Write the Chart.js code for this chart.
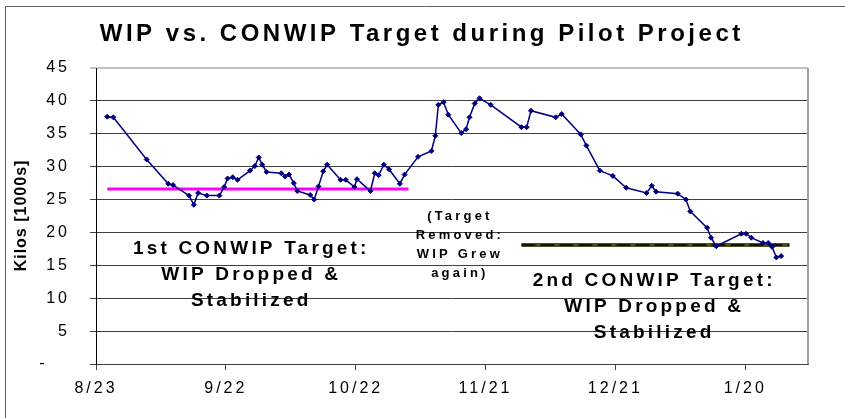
<!DOCTYPE html>
<html lang="en">
<head>
<meta charset="UTF-8">
<title>WIP vs. CONWIP Target during Pilot Project</title>
<script src="https://cdn.jsdelivr.net/npm/chart.js"></script>
<style>
    body { margin: 0; background: #fff; }
</style>
</head>
<body>
<canvas id="wipChart" width="845" height="418"></canvas>
<script>
// days counted from 8/23, kilos in 1000s
const wipDays = [2.6, 4.0, 11.7, 16.7, 17.8, 21.5, 22.6, 23.6, 25.6, 28.5,
    29.6, 30.4, 31.6, 32.7, 35.6, 36.7, 37.6, 38.4, 39.4, 42.8,
    43.7, 44.6, 45.7, 46.5, 49.5, 50.4, 51.4, 52.5, 53.4, 56.5,
    57.7, 59.7, 60.3, 63.4, 64.4, 65.3, 66.5, 67.7, 70.2, 71.3,
    74.4, 77.5, 78.4, 79.1, 80.3, 81.4, 84.4, 85.5, 86.3, 87.5,
    88.6, 91.2, 98.3, 99.5, 100.5, 106.2, 107.6, 112.0, 113.3, 116.4,
    119.4, 122.5, 127.2, 128.4, 129.4, 134.4, 136.3, 137.3, 141.2, 142.1,
    143.3, 149.1, 150.2, 151.4, 154.1, 155.3, 156.2, 157.2, 158.3];
const wipKilos = [37.6, 37.5, 31.1, 27.4, 27.2, 25.6, 24.2, 26.0, 25.6, 25.6,
    26.9, 28.2, 28.4, 28.0, 29.4, 30.1, 31.4, 30.3, 29.2, 29.0,
    28.5, 28.8, 27.5, 26.3, 25.7, 25.0, 27.0, 29.3, 30.3, 28.0,
    28.0, 26.9, 28.1, 26.3, 29.0, 28.7, 30.3, 29.6, 27.4, 28.8,
    31.5, 32.4, 34.7, 39.4, 39.8, 37.9, 35.1, 35.7, 37.5, 39.6,
    40.4, 39.4, 36.0, 36.0, 38.5, 37.5, 38.0, 34.9, 33.2, 29.4,
    28.6, 26.8, 26.0, 27.1, 26.2, 25.9, 25.0, 23.2, 20.7, 19.2,
    17.9, 19.8, 19.8, 19.2, 18.4, 18.4, 17.8, 16.2, 16.4];

const target1Days = [2.6, 72.2];
const target1Kilos = [26.6, 26.6];
const target2Days = [98.3, 160.2];
const target2Kilos = [18.1, 18.1];

const tickDays = [0, 30, 60, 90, 120, 150];
const tickLabels = ['8/23', '9/22', '10/22', '11/21', '12/21', '1/20'];

const FONT = "Arial, 'Liberation Sans', sans-serif";

function toPoints(xs, ys) {
    return xs.map((x, i) => ({ x: x, y: ys[i] }));
}

// text boxes inside the plot, placed in data units (day, kilos)
const notes = [
    { lines: ['1st CONWIP Target:', 'WIP Dropped &', 'Stabilized'], day: 35.5, kilos: 17.5, step: 26, size: 19 },
    { lines: ['(Target', 'Removed:', 'WIP Grew', 'again)'], day: 83.7, kilos: 22.4, step: 19, size: 13 },
    { lines: ['2nd CONWIP Target:', 'WIP Dropped &', 'Stabilized'], day: 128.6, kilos: 12.7, step: 26, size: 19 }
];

function spacedText(ctx, text, x, y, ls) {
    ctx.letterSpacing = ls + 'px';
    ctx.fillText(text, x + ls / 2, y);
}

const decorations = {
    id: 'decorations',
    beforeDraw(chart) {
        const ctx = chart.ctx;
        ctx.save();
        ctx.strokeStyle = '#606060';
        ctx.lineWidth = 1;
        ctx.beginPath();
        ctx.moveTo(5.5, chart.height);
        ctx.lineTo(5.5, 6.5);
        ctx.lineTo(chart.width, 6.5);
        ctx.stroke();
        ctx.restore();
        // tick labels are letter-spaced
        ctx.letterSpacing = '3px';
    },
    afterDraw(chart) {
        const ctx = chart.ctx;
        const area = chart.chartArea;
        const xs = chart.scales.x;
        const ys = chart.scales.y;

        ctx.save();
        ctx.strokeStyle = '#a0a0a0';
        ctx.lineWidth = 2;
        ctx.beginPath();
        ctx.moveTo(area.right, area.top);
        ctx.lineTo(area.right, area.bottom);
        ctx.stroke();

        ctx.fillStyle = '#000';
        ctx.textAlign = 'center';
        ctx.textBaseline = 'middle';

        ctx.font = 'bold 24px ' + FONT;
        spacedText(ctx, 'WIP vs. CONWIP Target during Pilot Project', 420, 34, 3.5);

        notes.forEach(n => {
            ctx.font = 'bold ' + n.size + 'px ' + FONT;
            const cx = xs.getPixelForValue(n.day);
            const y0 = ys.getPixelForValue(n.kilos);
            n.lines.forEach((line, i) => {
                spacedText(ctx, line, cx, y0 + i * n.step, 3.2);
            });
        });

        ctx.translate(22, (area.top + area.bottom) / 2);
        ctx.rotate(-Math.PI / 2);
        ctx.font = 'bold 16px ' + FONT;
        spacedText(ctx, 'Kilos [1000s]', 0, 0, 1);
        ctx.restore();
        ctx.letterSpacing = '0px';
    }
};

const ctx = document.getElementById('wipChart').getContext('2d');
const wipChart = new Chart(ctx, {
    type: 'line',
    data: {
        datasets: [{
            label: 'WIP',
            data: toPoints(wipDays, wipKilos),
            borderColor: '#000080',
            borderWidth: 1.5,
            pointStyle: 'rectRot',
            pointRadius: 2.5,
            pointBackgroundColor: '#000080',
            pointBorderColor: '#000080',
            pointBorderWidth: 1,
            tension: 0,
            order: 0
        }, {
            label: '1st CONWIP Target',
            data: toPoints(target1Days, target1Kilos),
            borderColor: '#ff00ff',
            borderWidth: 3,
            pointRadius: 0,
            order: 1
        }, {
            label: '2nd CONWIP Target',
            data: toPoints(target2Days, target2Kilos),
            borderColor: '#000000',
            borderWidth: 1.5,
            borderDash: [14, 5],
            pointRadius: 0,
            order: 2
        }, {
            label: '2nd CONWIP Target band',
            data: toPoints(target2Days, target2Kilos),
            borderColor: '#4f4f22',
            borderWidth: 4,
            pointRadius: 0,
            order: 3
        }]
    },
    options: {
        responsive: false,
        animation: false,
        layout: { padding: { top: 68, right: 37, left: 0, bottom: 0 } },
        plugins: {
            legend: { display: false },
            tooltip: { enabled: false }
        },
        scales: {
            x: {
                type: 'linear',
                min: 0,
                max: 164.5,
                afterBuildTicks: scale => {
                    scale.ticks = tickDays.map(v => ({ value: v }));
                },
                afterFit: scale => { scale.height = 54; },
                grid: {
                    drawOnChartArea: false,
                    drawTicks: true,
                    tickLength: 6,
                    color: '#404040'
                },
                border: { color: '#404040', width: 1 },
                ticks: {
                    autoSkip: false,
                    maxRotation: 0,
                    padding: 9,
                    color: '#000',
                    font: { family: FONT, size: 16 },
                    callback: (v, i) => tickLabels[i]
                }
            },
            y: {
                min: 0,
                max: 45,
                afterFit: scale => { scale.width = 96; },
                grid: {
                    tickLength: 6,
                    color: c => (c.tick && c.tick.value === 45 ? '#c0c0c0' : '#404040'),
                    lineWidth: c => (c.tick && c.tick.value === 45 ? 2 : 1)
                },
                border: { color: '#000', width: 1 },
                ticks: {
                    stepSize: 5,
                    padding: 20,
                    color: '#000',
                    font: { family: FONT, size: 16 },
                    callback: v => (v === 0 ? '-   ' : v)
                }
            }
        }
    },
    plugins: [decorations]
});
</script>
</body>
</html>
